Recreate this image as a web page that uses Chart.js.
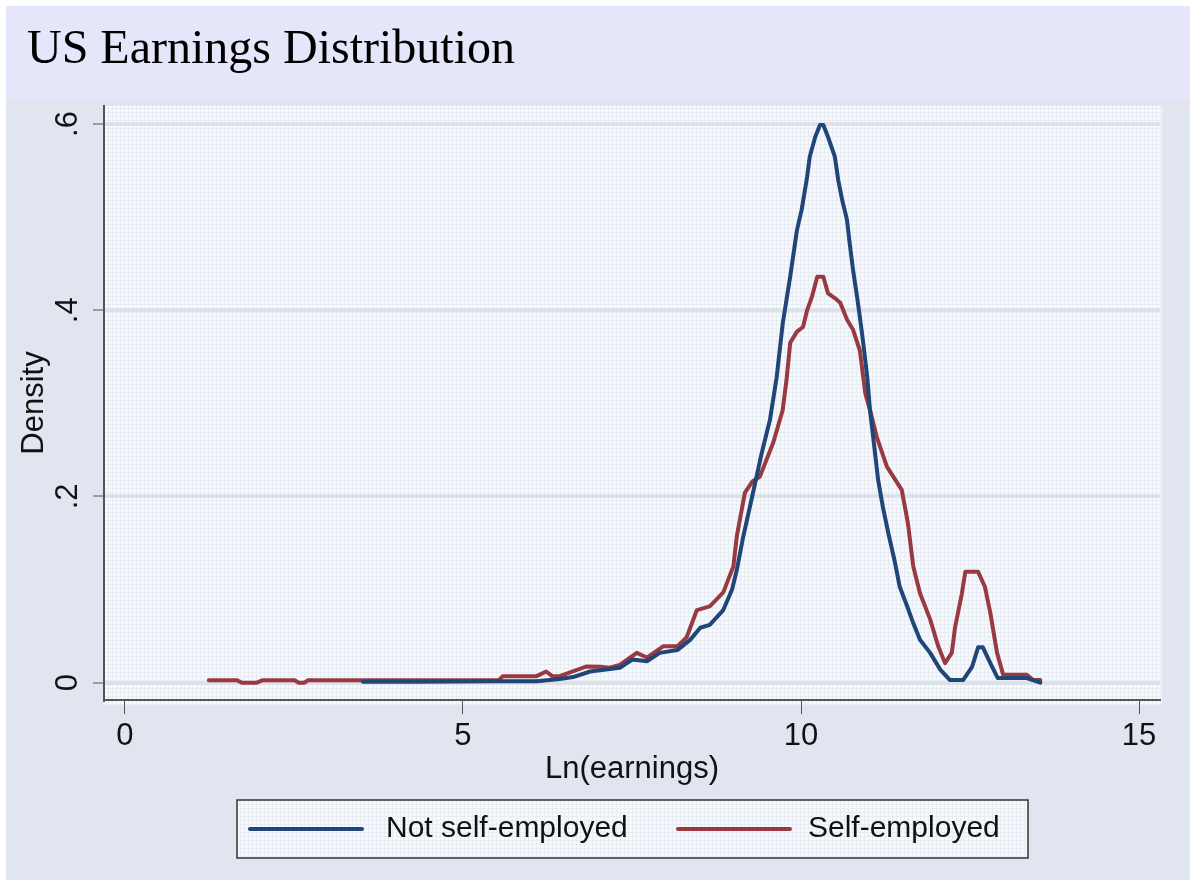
<!DOCTYPE html>
<html>
<head>
<meta charset="utf-8">
<script src="https://cdn.jsdelivr.net/npm/chart.js@4.4.1/dist/chart.umd.min.js"></script>
<style>
  html, body { margin: 0; padding: 0; background: #fff; }
  #wrap { width: 1190px; height: 884px; }
</style>
</head>
<body>
<div id="wrap"><canvas id="chart" width="1190" height="884"></canvas></div>
<script>
// kernel density of ln(earnings)
const notSelfX = [3.52, 4.26, 5.53, 6.09, 6.43, 6.63, 6.88, 7.32, 7.51, 7.72, 7.91, 8.17, 8.36, 8.51, 8.65, 8.85, 8.98, 9.05, 9.14, 9.29, 9.42, 9.54, 9.64, 9.73, 9.84, 9.94, 10.01, 10.09, 10.13, 10.21, 10.28, 10.33, 10.40, 10.50, 10.55, 10.61, 10.68, 10.72, 10.77, 10.83, 10.87, 10.92, 10.98, 11.02, 11.08, 11.14, 11.21, 11.29, 11.39, 11.46, 11.57, 11.66, 11.76, 11.91, 12.06, 12.20, 12.40, 12.53, 12.62, 12.69, 12.80, 12.91, 13.34, 13.54];
const notSelfY = [0.001, 0.001, 0.0015, 0.0015, 0.004, 0.006, 0.012, 0.016, 0.025, 0.023, 0.032, 0.035, 0.046, 0.059, 0.062, 0.078, 0.1, 0.121, 0.155, 0.204, 0.247, 0.282, 0.328, 0.386, 0.436, 0.486, 0.508, 0.543, 0.565, 0.586, 0.599, 0.599, 0.586, 0.565, 0.54, 0.518, 0.497, 0.472, 0.443, 0.414, 0.393, 0.365, 0.328, 0.293, 0.256, 0.218, 0.189, 0.161, 0.129, 0.103, 0.082, 0.064, 0.046, 0.032, 0.014, 0.003, 0.003, 0.017, 0.038, 0.038, 0.021, 0.005, 0.005, 0.0];

const selfX = [1.24, 1.66, 1.73, 1.95, 2.03, 2.51, 2.57, 2.65, 2.71, 5.53, 5.59, 6.09, 6.23, 6.32, 6.43, 6.83, 7.03, 7.17, 7.32, 7.57, 7.72, 7.96, 8.17, 8.31, 8.46, 8.65, 8.85, 9.0, 9.05, 9.17, 9.28, 9.39, 9.59, 9.73, 9.79, 9.84, 9.94, 10.03, 10.09, 10.16, 10.24, 10.33, 10.40, 10.50, 10.58, 10.68, 10.77, 10.87, 10.95, 11.02, 11.12, 11.27, 11.49, 11.58, 11.66, 11.76, 11.91, 12.03, 12.13, 12.23, 12.28, 12.38, 12.43, 12.62, 12.72, 12.80, 12.90, 12.99, 13.34, 13.43, 13.54];
const selfY = [0.0025, 0.0025, 0.0, 0.0, 0.0025, 0.0025, 0.0, 0.0, 0.0025, 0.0025, 0.007, 0.007, 0.012, 0.007, 0.007, 0.0175, 0.017, 0.016, 0.019, 0.032, 0.027, 0.039, 0.039, 0.049, 0.078, 0.082, 0.097, 0.125, 0.157, 0.204, 0.216, 0.221, 0.258, 0.293, 0.328, 0.365, 0.377, 0.382, 0.40, 0.414, 0.436, 0.436, 0.418, 0.413, 0.408, 0.39, 0.379, 0.357, 0.311, 0.293, 0.264, 0.232, 0.207, 0.172, 0.125, 0.096, 0.068, 0.039, 0.021, 0.032, 0.06, 0.096, 0.119, 0.119, 0.103, 0.075, 0.032, 0.0085, 0.0085, 0.003, 0.003];

const seriesNames = ["Not self-employed", "Self-employed"];
const xTicks = [0, 5, 10, 15];
const yTicks = [0, 0.2, 0.4, 0.6];
const yTickLabels = ["0", ".2", ".4", ".6"];

const NAVY = "#1f4677";
const MAROON = "#993a40";
const SANS = '"Liberation Sans", Arial, sans-serif';
const NARROW = '"Liberation Sans Narrow", "Liberation Sans", Arial, sans-serif';

function pts(xs, ys) {
  return xs.map((x, i) => ({ x: x, y: ys[i] }));
}

// small stata-like hatch pattern for plot region and legend
function makePattern(ctx) {
  const c = document.createElement("canvas");
  c.width = 4; c.height = 4;
  const p = c.getContext("2d");
  p.fillStyle = "#f8f9fc";
  p.fillRect(0, 0, 4, 4);
  p.fillStyle = "#e8ecf3";
  p.fillRect(0, 0, 4, 1);
  p.fillRect(0, 0, 1, 4);
  return ctx.createPattern(c, "repeat");
}

const frame = {
  id: "frame",
  beforeDraw(chart) {
    const ctx = chart.ctx;
    const a = chart.chartArea;
    ctx.save();
    ctx.fillStyle = "#ffffff";
    ctx.fillRect(0, 0, chart.width, chart.height);
    ctx.fillStyle = "#e1e5ef";
    ctx.fillRect(6, 100, chart.width - 6, chart.height - 104);
    ctx.fillStyle = "#e6e6fa";
    ctx.fillRect(6, 6, chart.width - 6, 94);
    ctx.fillStyle = makePattern(ctx);
    ctx.fillRect(a.left, a.top, a.right - a.left + 2, a.bottom - a.top + 5);
    ctx.fillStyle = "#000";
    ctx.font = '48px "Liberation Serif", "Times New Roman", serif';
    ctx.textBaseline = "alphabetic";
    ctx.fillText("US Earnings Distribution", 27, 63);
    ctx.restore();
  },
  afterDraw(chart) {
    const ctx = chart.ctx;
    ctx.save();
    const bx = 237, by = 800, bw = 791, bh = 58;
    ctx.fillStyle = makePattern(ctx);
    ctx.fillRect(bx, by, bw, bh);
    ctx.strokeStyle = "#333";
    ctx.lineWidth = 1.5;
    ctx.strokeRect(bx, by, bw, bh);
    const slots = [[250, 386], [678, 808]];
    ctx.font = "30px " + SANS;
    ctx.textBaseline = "middle";
    chart.data.datasets.forEach((ds, i) => {
      const [lx, tx] = slots[i];
      ctx.strokeStyle = ds.borderColor;
      ctx.lineWidth = 4;
      ctx.lineCap = "round";
      ctx.beginPath();
      ctx.moveTo(lx, 829);
      ctx.lineTo(lx + 112, 829);
      ctx.stroke();
      ctx.fillStyle = "#111";
      ctx.fillText(ds.label, tx, 829);
    });
    ctx.restore();
  }
};

new Chart(document.getElementById("chart"), {
  type: "line",
  data: {
    datasets: [
      { label: seriesNames[0], data: pts(notSelfX, notSelfY), borderColor: NAVY, backgroundColor: NAVY },
      { label: seriesNames[1], data: pts(selfX, selfY), borderColor: MAROON, backgroundColor: MAROON }
    ]
  },
  options: {
    responsive: false,
    animation: false,
    layout: { padding: { left: 0, top: 106, right: 30, bottom: 84 } },
    elements: {
      point: { radius: 0 },
      line: { borderWidth: 4, tension: 0, borderJoinStyle: "round", borderCapStyle: "round" }
    },
    plugins: { legend: { display: false }, title: { display: false }, tooltip: { enabled: false } },
    scales: {
      x: {
        type: "linear",
        min: -0.31,
        max: 15.31,
        afterBuildTicks: (s) => { s.ticks = xTicks.map(v => ({ value: v })); },
        afterFit: (s) => { s.height = 100; },
        grid: { drawOnChartArea: false, tickLength: 14, tickColor: "#555", tickWidth: 1 },
        border: { color: "#555", width: 2 },
        ticks: { color: "#111", font: { family: NARROW, size: 31 }, padding: 4, maxRotation: 0 },
        title: { display: true, text: "Ln(earnings)", color: "#111", font: { family: SANS, size: 31 }, padding: { top: 0, bottom: 12 } }
      },
      y: {
        type: "linear",
        min: -0.0186,
        max: 0.6193,
        afterBuildTicks: (s) => { s.ticks = yTicks.map(v => ({ value: v })); },
        afterFit: (s) => { s.width = 104; },
        grid: { color: "#dde1ea", lineWidth: 4, tickLength: 11, tickColor: "#555", tickWidth: 1 },
        border: { color: "#555", width: 2 },
        ticks: {
          color: "#111",
          font: { family: NARROW, size: 31 },
          minRotation: 90,
          maxRotation: 90,
          crossAlign: "center",
          padding: 12,
          callback: (v) => yTickLabels[yTicks.indexOf(v)]
        },
        title: { display: true, text: "Density", color: "#111", font: { family: SANS, size: 31 }, padding: { top: 16, bottom: 0 } }
      }
    }
  },
  plugins: [frame]
});
</script>
</body>
</html>
